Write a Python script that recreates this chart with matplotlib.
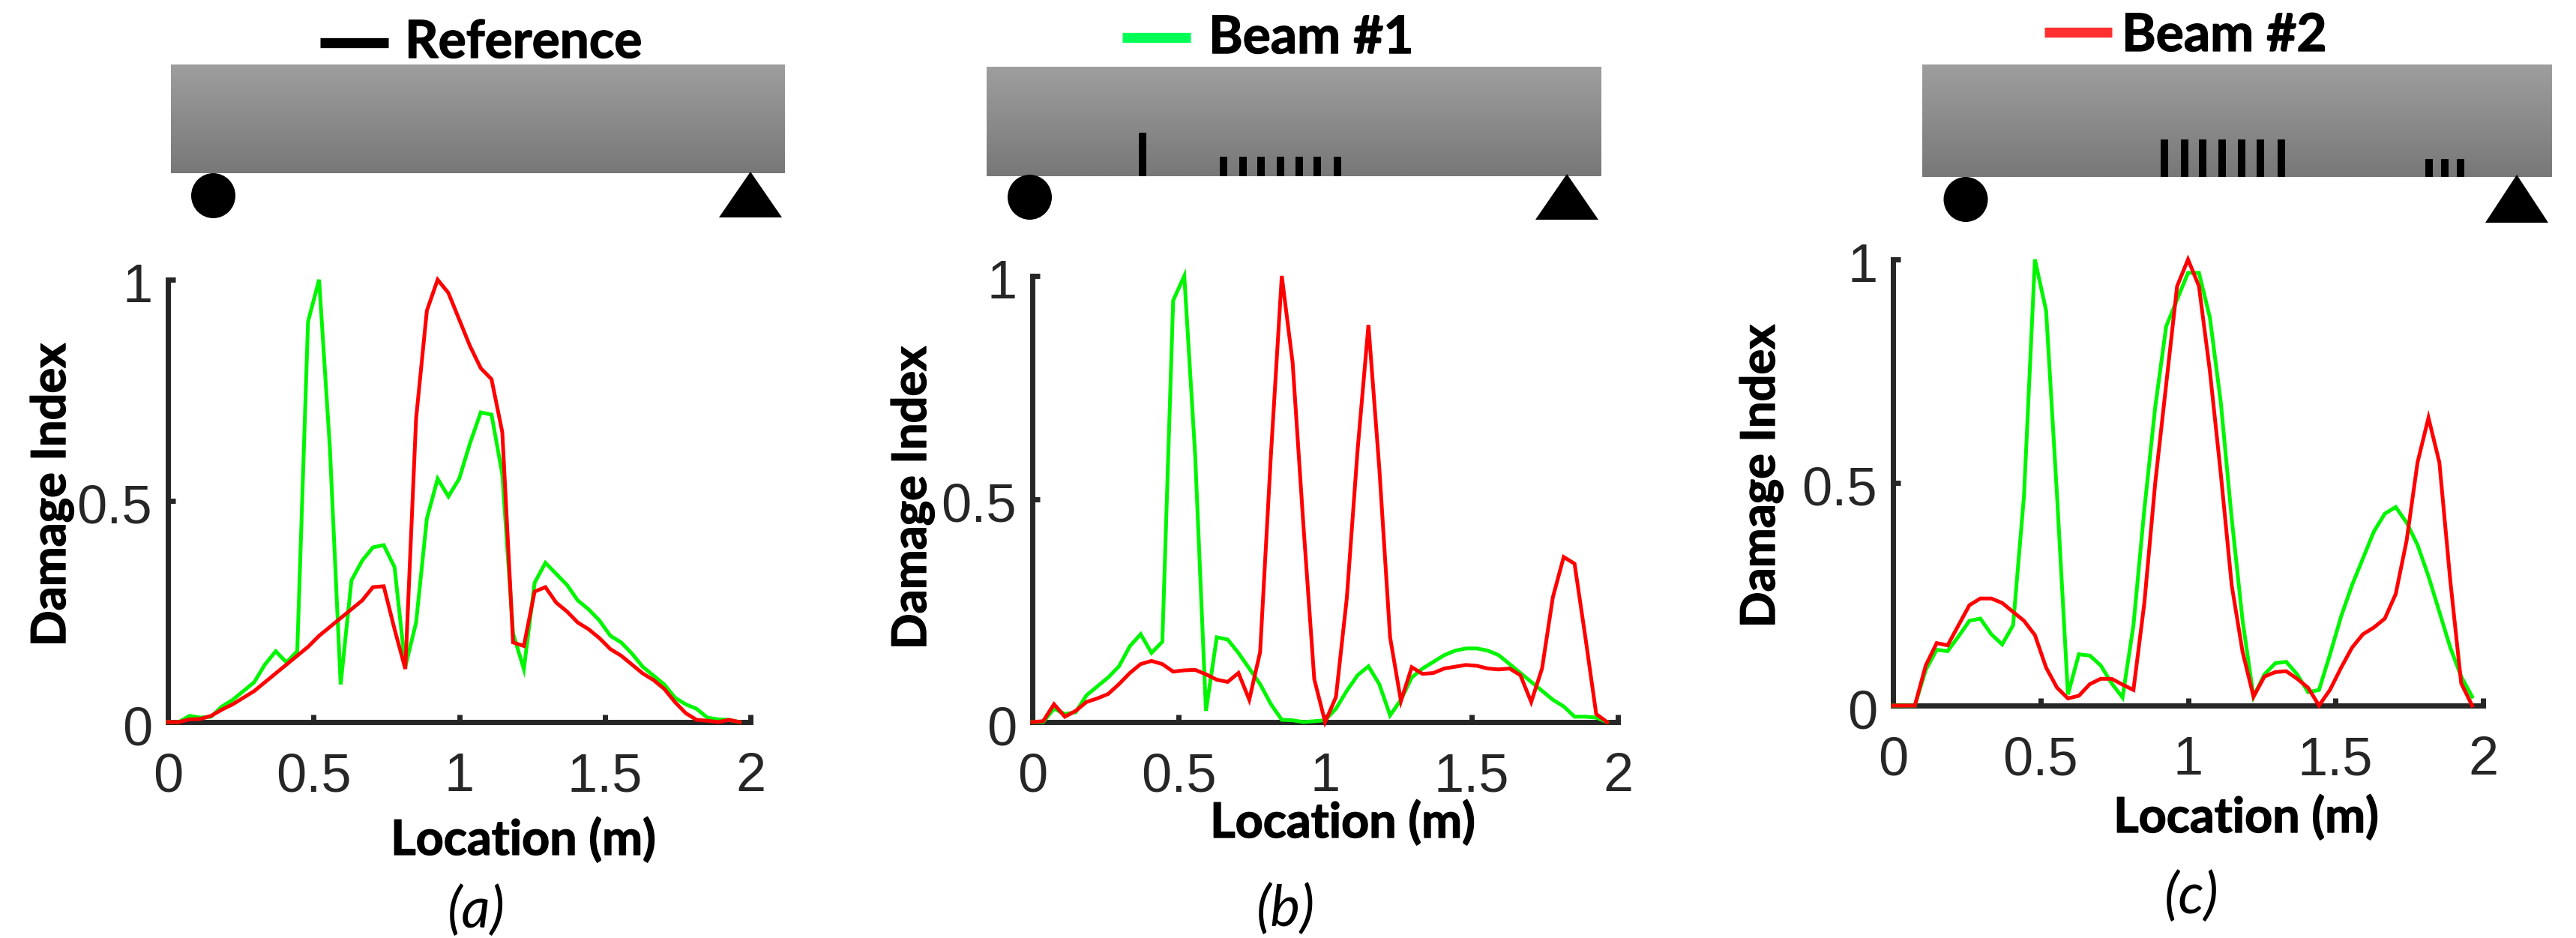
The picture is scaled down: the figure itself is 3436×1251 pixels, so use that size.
import numpy as np
import matplotlib
matplotlib.use('Agg')
import matplotlib.pyplot as plt
from matplotlib.patches import Ellipse, Polygon
from matplotlib.transforms import ScaledTranslation
import matplotlib.patheffects as pe

W, H = 3436, 1251
location = [round(i / 27, 3) for i in range(54)]

a_green = [0,0,.014,.010,.012,.035,.05,.07,.09,.13,.16,.135,.16,.905,1.0,.62,.085,.32,.365,.395,.40,.35,.125,.225,.46,.55,.51,.55,.63,.70,.695,.56,.2,.12,.315,.36,.335,.31,.275,.255,.23,.195,.18,.155,.125,.105,.085,.055,.04,.03,.01,.006,.005,0]
a_red = [0,0,.006,.007,.014,.028,.04,.055,.07,.09,.11,.13,.15,.17,.195,.215,.235,.255,.275,.305,.307,.21,.12,.686,.93,1.0,.97,.91,.85,.80,.775,.655,.18,.172,.295,.305,.27,.25,.225,.21,.19,.165,.15,.13,.11,.095,.075,.045,.02,.005,.003,0,.005,0]
b_green = [0,0,.03,.018,.022,.06,.08,.10,.125,.17,.197,.155,.18,.945,1.0,.6,.025,.19,.185,.155,.12,.085,.04,.005,.004,0,.002,.004,.03,.07,.105,.125,.085,.015,.05,.10,.12,.135,.15,.16,.165,.165,.16,.15,.13,.11,.09,.07,.05,.035,.012,.012,.01,0]
b_red = [0,.002,.04,.012,.025,.045,.053,.063,.085,.11,.13,.137,.13,.113,.116,.117,.107,.095,.09,.11,.05,.157,.6,1.0,.806,.44,.096,0,.056,.277,.61,.89,.57,.19,.047,.123,.108,.11,.12,.124,.128,.126,.12,.118,.12,.105,.045,.12,.28,.37,.355,.19,.018,0]
c_green = [0,0,0,.08,.125,.122,.155,.19,.195,.16,.137,.18,.47,1.0,.885,.47,.025,.115,.112,.09,.05,.018,.18,.44,.67,.85,.91,.97,.97,.87,.68,.42,.19,.02,.07,.095,.098,.07,.03,.035,.114,.2,.27,.33,.39,.43,.445,.41,.36,.29,.21,.13,.065,.02]
c_red = [0,0,0,.09,.14,.135,.18,.225,.24,.24,.23,.21,.19,.158,.085,.04,.016,.022,.048,.06,.06,.047,.035,.23,.5,.72,.94,1.0,.94,.75,.52,.27,.12,.02,.065,.075,.077,.06,.04,0,.035,.085,.13,.16,.175,.195,.25,.37,.545,.645,.545,.28,.05,0]

xticks = [0, 0.5, 1, 1.5, 2]
xticklabels = ['0', '0.5', '1', '1.5', '2']
yticks = [0, 0.5, 1]
yticklabels = ['0', '0.5', '1']
xlabel = 'Location (m)'
ylabel = 'Damage Index'

TXT = ['Lato', 'DejaVu Sans']
NUM = ['Liberation Sans', 'DejaVu Sans']
DARK = '#262626'

panels = [
    dict(green=a_green, red=a_red, box=(224, 1001, 373, 963),
         beam=(228, 1047, 86, 231), circle=(284.5, 261), tri=(1001, 229, 290, 959, 1043),
         big=[], big_top=0, small=[], small_top=0,
         leg=(427, 518, 57, 'black'), title='Reference', tx=540, ty=77,
         lab=(698, 1140), ylab=(87, 660), sub='(a)', sx=635, sy=1215),
    dict(green=b_green, red=b_red, box=(1377, 2158, 368, 963),
         beam=(1316, 2136, 89, 235), circle=(1373.5, 263), tri=(2090, 232, 293, 2048, 2132),
         big=[1524], big_top=177, small=[1632, 1658, 1682, 1708, 1733, 1757, 1784], small_top=209,
         leg=(1497, 1588, 49.5, '#00FF55'), title='Beam #1', tx=1612, ty=71,
         lab=(1791, 1117), ylab=(1235, 664), sub='(b)', sx=1715, sy=1213),
    dict(green=c_green, red=c_red, box=(2525, 3312, 346, 941),
         beam=(2564, 3404, 86, 236), circle=(2622, 266), tri=(3357, 233, 297, 3315, 3399),
         big=[2887, 2914, 2938, 2964, 2990, 3015, 3043], big_top=186, small=[3240, 3261, 3282], small_top=212,
         leg=(2727, 2817, 43, '#FF3030'), title='Beam #2', tx=2830, ty=68,
         lab=(2996, 1110), ylab=(2367, 635), sub='(c)', sx=2923, sy=1196),
]

fig = plt.figure(figsize=(W / 100, H / 100), dpi=100, facecolor='white')
ov = fig.add_axes([0, 0, 1, 1])
ov.set_xlim(0, W)
ov.set_ylim(H, 0)
ov.axis('off')
grad = np.linspace(0, 1, 100).reshape(-1, 1)
beam_cmap = matplotlib.colors.LinearSegmentedColormap.from_list('b', ['#9E9E9E', '#787878'])
stroke = [pe.withStroke(linewidth=1.0, foreground='black')]

for p in panels:
    x0, x1, y0, y1 = p['beam']
    ov.imshow(grad, extent=(x0, x1, y1, y0), cmap=beam_cmap, aspect='auto', zorder=1, vmin=0, vmax=1)
    ov.add_patch(Ellipse(p['circle'], 59, 60, color='black', lw=0, zorder=2))
    ax_, ay_, by_, bl_, br_ = p['tri']
    ov.add_patch(Polygon([(ax_, ay_), (bl_, by_), (br_, by_)], color='black', lw=0, zorder=2))
    for cx in p['big']:
        ov.plot([cx, cx], [p['big_top'], y1], color='black', lw=7.2, solid_capstyle='butt', zorder=3)
    for cx in p['small']:
        ov.plot([cx, cx], [p['small_top'], y1], color='black', lw=7.2, solid_capstyle='butt', zorder=3)
    lx0, lx1, ly, lc = p['leg']
    ov.plot([lx0, lx1], [ly, ly], color=lc, lw=9.6, solid_capstyle='butt', zorder=3)
    ov.text(p['tx'], p['ty'], p['title'], family=TXT, weight='bold', fontsize=50, ha='left', va='baseline',
            color='black', zorder=6, path_effects=stroke)

    bx0, bx1, by0, by1 = p['box']
    ax = fig.add_axes([bx0 / W, 1 - by1 / H, (bx1 - bx0) / W, (by1 - by0) / H])
    ax.patch.set_alpha(0)
    ax.set_xlim(0, 2)
    ax.set_ylim(0, 1)
    ax.plot(location, p['green'], color='#00F500', lw=3.6, clip_on=False, solid_joinstyle='miter', zorder=4)
    ax.plot(location, p['red'], color='#FF0000', lw=3.6, clip_on=False, solid_joinstyle='miter', zorder=4)
    for s in ('top', 'right'):
        ax.spines[s].set_visible(False)
    for s in ('left', 'bottom'):
        ax.spines[s].set_linewidth(5)
        ax.spines[s].set_color(DARK)
    ax.set_xticks(xticks, xticklabels)
    ax.set_yticks(yticks, yticklabels)
    ax.tick_params(axis='both', direction='in', length=7.2, width=5, color=DARK, labelcolor=DARK, labelsize=52)
    ax.tick_params(axis='x', pad=29)
    ax.tick_params(axis='y', pad=15)
    for t in ax.get_xticklabels() + ax.get_yticklabels():
        t.set_family(NUM)
        t.set_zorder(5)
    for t in ax.get_yticklabels():
        t.set_transform(t.get_transform() + ScaledTranslation(0, -4 / 100, fig.dpi_scale_trans))
    fig.text(p['lab'][0] / W, 1 - p['lab'][1] / H, xlabel, family=TXT, weight='bold', fontsize=46.5,
             ha='center', va='baseline', color='black', path_effects=stroke)
    fig.text(p['ylab'][0] / W, 1 - p['ylab'][1] / H, ylabel, family=TXT, weight='bold', fontsize=45.5,
             ha='center', va='baseline', rotation=90, rotation_mode='anchor', color='black', path_effects=stroke)
    fig.text(p['sx'] / W, 1 - p['sy'] / H, p['sub'], family=TXT, style='italic', fontsize=54, ha='center', va='center', color='black')

fig.savefig('out.png', dpi=100, facecolor='white')
